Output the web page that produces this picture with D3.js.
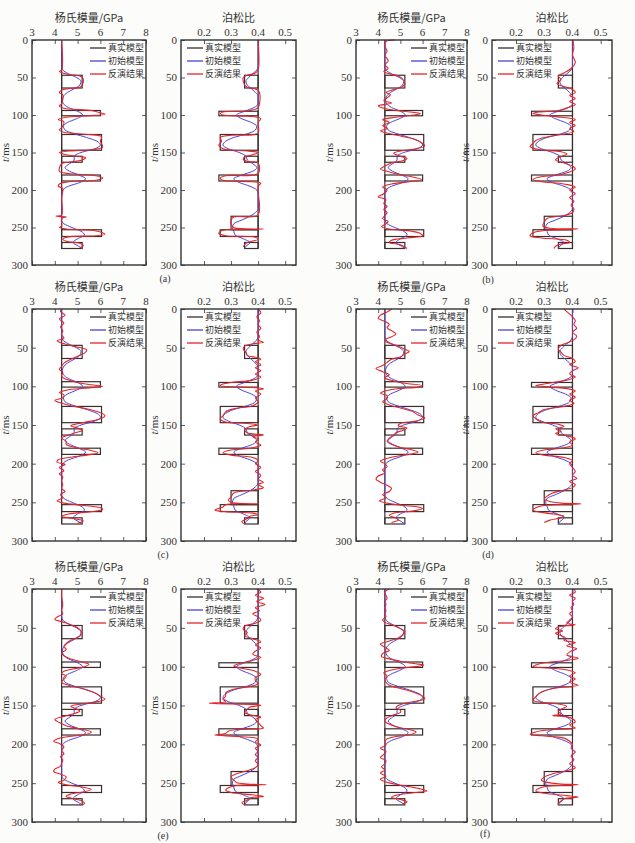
<!DOCTYPE html>
<html><head><meta charset="utf-8">
<script src="https://cdn.jsdelivr.net/npm/d3@7"></script>
<style>body{margin:0;background:#fff}svg{display:block}</style>
</head><body><svg id="c" width="635" height="843"></svg>
<script>
// ---------------- DATA ----------------
const timeTicks = [0, 50, 100, 150, 200, 250, 300];
const eTicks = [3, 4, 5, 6, 7, 8];
const pTicks = [0.2, 0.3, 0.4, 0.5];
const legendNames = ["真实模型", "初始模型", "反演结果"];
const eTitle = "杨氏模量/GPa";
const pTitle = "泊松比";
const captions = ["(a)", "(b)", "(c)", "(d)", "(e)", "(f)"];

// true model: background value + layers [t0, t1, value]
const eBase = 4.3, pBase = 0.4, tEnd = 278;
const eBlocks = [[47,64,5.2],[94,101,6.0],[126,147,6.05],[155,163,5.2],[180,188,6.0],[253,262,6.05],[270,278,5.2]];
const pBlocks = [[47,64,0.35],[95,101,0.255],[126,147,0.26],[155,163,0.35],[180,188,0.255],[235,253,0.3],[253,262,0.26],[270,278,0.35]];

// initial model
const eInit = [[0,4.3],[35,4.3],[40,4.35],[45,4.6],[50,4.95],[55,5.15],[60,5.1],[65,4.85],[70,4.55],[75,4.38],[80,4.33],[85,4.38],[90,4.6],[95,5.0],[100,5.22],[105,4.95],[110,4.55],[115,4.38],[120,4.45],[125,4.85],[130,5.4],[135,5.85],[140,6.0],[145,5.75],[150,5.15],[155,4.85],[160,4.85],[165,4.65],[170,4.45],[175,4.65],[180,5.05],[185,5.35],[190,5.1],[195,4.6],[200,4.35],[205,4.3],[240,4.3],[245,4.4],[250,4.75],[255,5.15],[260,5.3],[265,5.0],[270,4.8],[275,5.05],[278,5.2]];
const pInit = [[0,0.4],[35,0.4],[40,0.395],[45,0.38],[50,0.365],[55,0.355],[60,0.36],[65,0.375],[70,0.39],[75,0.4],[85,0.4],[90,0.385],[95,0.35],[100,0.32],[105,0.34],[110,0.375],[115,0.395],[120,0.39],[125,0.36],[130,0.31],[135,0.28],[140,0.27],[145,0.29],[150,0.33],[155,0.355],[160,0.36],[165,0.38],[170,0.395],[175,0.38],[180,0.34],[185,0.31],[190,0.33],[195,0.37],[200,0.395],[205,0.4],[225,0.4],[230,0.39],[235,0.37],[240,0.34],[245,0.31],[250,0.305],[255,0.31],[260,0.315],[265,0.345],[270,0.37],[275,0.355],[278,0.35]];

// inversion results
const eInvA = [[0,4.3],[40,4.3],[42,4.2],[44,4.35],[46,4.6],[48,5.1],[52,5.25],[60,5.2],[63,5.1],[65,4.6],[67,4.3],[70,4.2],[73,4.35],[85,4.3],[88,4.2],[91,4.4],[94,5.6],[97,6.0],[99,6.2],[101,5.5],[103,4.5],[106,4.15],[109,4.4],[115,4.35],[120,4.2],[123,4.4],[126,5.5],[129,6.05],[135,6.0],[143,6.1],[146,5.7],[148,4.6],[150,4.2],[153,4.5],[155,5.0],[157,5.35],[160,5.2],[163,4.6],[165,4.3],[175,4.2],[178,4.6],[181,5.8],[184,6.1],[187,5.8],[189,4.6],[192,4.2],[195,4.15],[198,4.35],[210,4.3],[233,4.3],[235,4.05],[236,4.5],[238,4.3],[248,4.3],[250,4.2],[252,4.5],[254,5.7],[257,6.1],[259,6.2],[261,5.8],[263,4.5],[266,4.35],[269,4.6],[271,5.1],[274,5.25],[277,5.1]];
const pInvA = [[0,0.4],[40,0.4],[44,0.39],[47,0.36],[50,0.345],[60,0.35],[63,0.36],[66,0.395],[70,0.405],[90,0.4],[94,0.37],[96,0.27],[98,0.26],[100,0.27],[102,0.38],[105,0.41],[110,0.4],[124,0.4],[127,0.3],[130,0.26],[135,0.265],[140,0.255],[145,0.27],[148,0.36],[150,0.4],[153,0.38],[156,0.35],[159,0.345],[162,0.36],[164,0.4],[178,0.4],[181,0.28],[184,0.26],[187,0.27],[189,0.38],[191,0.41],[195,0.4],[233,0.4],[236,0.31],[240,0.3],[245,0.3],[250,0.31],[252,0.42],[253,0.28],[255,0.26],[258,0.255],[261,0.28],[263,0.39],[266,0.4],[268,0.38],[270,0.36],[273,0.35],[276,0.345]];
const eInvB = [[0,4.75],[2,4.35],[8,4.3],[15,4.4],[20,4.3],[28,4.45],[33,4.3],[38,4.45],[42,4.25],[45,4.5],[48,4.9],[52,5.1],[58,5.2],[62,5.1],[66,4.7],[70,4.35],[73,4.55],[77,4.4],[81,4.25],[84,4.6],[88,4.0],[92,4.4],[95,5.1],[98,5.9],[100,5.6],[103,4.8],[106,4.2],[110,4.5],[114,4.2],[118,4.4],[121,4.1],[124,4.4],[128,5.0],[132,5.6],[136,5.9],[141,6.1],[145,5.7],[148,5.0],[151,4.7],[155,5.0],[158,5.3],[161,5.1],[164,4.6],[168,4.3],[172,4.1],[175,4.4],[179,4.9],[183,5.6],[186,5.95],[189,5.4],[192,4.6],[196,4.2],[200,4.4],[205,4.25],[209,4.0],[213,4.35],[218,4.25],[222,4.4],[226,4.25],[230,4.4],[234,4.3],[238,4.2],[242,4.45],[246,4.3],[249,4.15],[252,4.5],[255,5.5],[258,5.9],[261,6.0],[264,5.3],[267,4.6],[270,4.5],[273,5.0],[276,5.2],[278,5.3]];
const pInvB = [[0,0.4],[10,0.405],[20,0.4],[30,0.41],[38,0.395],[44,0.37],[48,0.35],[53,0.36],[58,0.345],[62,0.37],[66,0.4],[70,0.41],[74,0.39],[78,0.41],[82,0.39],[86,0.41],[90,0.385],[94,0.35],[96,0.28],[98,0.26],[100,0.29],[103,0.36],[106,0.41],[110,0.39],[114,0.41],[118,0.39],[122,0.405],[126,0.36],[130,0.3],[134,0.27],[138,0.26],[142,0.25],[146,0.28],[149,0.36],[152,0.38],[156,0.355],[160,0.34],[164,0.37],[168,0.4],[172,0.41],[176,0.39],[180,0.35],[183,0.28],[186,0.26],[189,0.29],[192,0.37],[196,0.41],[200,0.39],[205,0.41],[210,0.39],[215,0.405],[220,0.395],[225,0.405],[230,0.4],[234,0.37],[238,0.31],[243,0.3],[248,0.295],[251,0.32],[252,0.42],[254,0.3],[257,0.26],[261,0.25],[264,0.29],[267,0.38],[270,0.39],[272,0.36],[275,0.34],[278,0.335]];
const eInvC = [[0,4.3],[3,4.25],[8,4.45],[13,4.2],[18,4.4],[23,4.25],[28,4.35],[33,4.3],[38,4.4],[41,4.1],[44,4.3],[48,4.8],[53,5.4],[57,5.3],[61,5.0],[65,4.7],[70,4.4],[74,4.3],[78,4.2],[82,4.35],[87,4.3],[91,4.5],[95,5.0],[98,5.6],[100,6.1],[102,5.5],[105,4.5],[108,4.2],[111,4.4],[115,4.35],[118,4.0],[121,4.2],[125,4.7],[129,5.4],[134,6.0],[138,6.2],[142,6.0],[146,5.4],[149,4.9],[151,4.7],[154,5.0],[157,5.2],[160,4.9],[163,4.6],[167,4.3],[171,4.5],[175,4.5],[179,4.9],[183,5.6],[186,5.9],[189,5.4],[192,4.6],[195,4.15],[198,4.1],[201,4.45],[205,4.2],[209,4.4],[213,4.2],[217,4.35],[222,4.3],[227,4.35],[232,4.3],[236,4.45],[240,4.25],[244,4.35],[248,4.1],[251,4.4],[254,5.3],[257,6.0],[259,6.1],[262,5.6],[265,4.6],[268,4.3],[271,4.8],[274,5.25],[277,5.0]];
const pInvC = [[0,0.4],[5,0.41],[10,0.395],[15,0.405],[20,0.4],[25,0.41],[30,0.395],[35,0.405],[40,0.4],[43,0.42],[45,0.38],[48,0.35],[52,0.345],[56,0.355],[60,0.36],[63,0.4],[65,0.41],[68,0.39],[72,0.41],[76,0.39],[80,0.41],[84,0.39],[88,0.41],[92,0.38],[95,0.3],[97,0.27],[99,0.26],[101,0.33],[103,0.42],[106,0.39],[110,0.41],[115,0.39],[120,0.4],[125,0.38],[129,0.31],[133,0.28],[138,0.27],[142,0.26],[146,0.28],[148,0.36],[150,0.4],[152,0.37],[156,0.35],[160,0.36],[163,0.42],[165,0.38],[168,0.4],[172,0.39],[176,0.41],[180,0.37],[183,0.29],[186,0.27],[189,0.3],[192,0.38],[196,0.4],[200,0.39],[205,0.41],[210,0.39],[215,0.41],[220,0.4],[224,0.42],[227,0.4],[231,0.42],[234,0.38],[238,0.31],[243,0.3],[247,0.29],[250,0.3],[252,0.4],[253,0.28],[256,0.27],[260,0.24],[262,0.28],[264,0.38],[266,0.4],[268,0.37],[271,0.36],[275,0.34],[278,0.35]];
const eInvD = [[0,4.6],[4,4.4],[8,4.1],[12,4.0],[16,4.3],[20,4.5],[24,4.4],[28,4.6],[32,4.8],[36,4.6],[40,4.3],[43,4.4],[47,4.8],[52,5.2],[55,5.4],[58,5.2],[62,5.0],[65,4.6],[69,4.4],[73,4.2],[77,3.9],[81,4.2],[85,4.5],[89,4.3],[93,4.7],[96,5.2],[99,6.0],[101,5.8],[103,4.9],[106,4.3],[109,4.1],[112,4.4],[116,4.4],[120,4.2],[124,4.5],[128,5.0],[132,5.5],[137,5.8],[141,6.1],[145,5.7],[148,5.0],[151,4.9],[154,5.3],[157,5.1],[160,4.8],[163,4.7],[167,4.5],[171,4.4],[175,4.6],[179,5.0],[182,5.5],[185,5.8],[188,5.4],[191,4.7],[194,4.3],[197,4.1],[200,4.3],[204,4.4],[208,4.2],[212,4.3],[216,4.0],[220,3.9],[224,4.1],[228,4.4],[232,4.6],[236,4.5],[240,4.2],[244,4.35],[248,4.05],[251,4.4],[254,5.1],[256,5.8],[258,6.0],[261,5.6],[264,4.7],[267,4.5],[270,4.8],[273,4.9],[276,4.6]];
const pInvD = [[0,0.37],[5,0.385],[10,0.4],[15,0.41],[20,0.405],[25,0.415],[30,0.4],[35,0.415],[40,0.405],[44,0.38],[47,0.36],[52,0.35],[56,0.36],[60,0.37],[64,0.4],[68,0.41],[72,0.39],[76,0.42],[80,0.4],[84,0.39],[88,0.41],[92,0.38],[95,0.33],[97,0.3],[99,0.27],[101,0.32],[103,0.38],[106,0.41],[110,0.39],[114,0.41],[118,0.39],[122,0.405],[126,0.37],[130,0.3],[134,0.28],[138,0.26],[142,0.27],[146,0.29],[149,0.35],[152,0.37],[155,0.34],[158,0.36],[161,0.34],[164,0.38],[168,0.41],[172,0.39],[176,0.4],[180,0.36],[183,0.29],[186,0.27],[189,0.3],[192,0.37],[196,0.4],[200,0.39],[205,0.4],[210,0.41],[215,0.4],[219,0.415],[223,0.39],[227,0.41],[231,0.4],[234,0.37],[238,0.33],[242,0.31],[246,0.3],[249,0.32],[251,0.36],[252,0.43],[254,0.3],[257,0.27],[260,0.26],[263,0.29],[266,0.35],[268,0.37],[270,0.36],[273,0.32],[276,0.3]];
const eInvE = [[0,4.3],[10,4.3],[20,4.35],[28,4.3],[32,4.35],[36,4.1],[39,4.0],[42,4.3],[46,4.7],[50,5.0],[54,5.15],[58,5.2],[62,5.0],[66,4.7],[70,4.5],[74,4.4],[78,4.5],[82,4.3],[86,4.4],[90,4.7],[94,5.2],[97,5.5],[100,5.3],[103,4.8],[106,4.4],[109,4.3],[112,4.5],[116,4.4],[120,4.3],[124,4.6],[128,5.2],[133,5.7],[138,6.0],[142,6.2],[145,5.9],[148,5.2],[151,4.7],[154,4.9],[157,5.1],[160,4.9],[164,4.4],[168,4.0],[172,4.2],[176,4.5],[180,5.1],[184,5.6],[187,5.4],[190,4.6],[193,4.1],[196,3.95],[199,4.2],[203,4.4],[208,4.3],[212,4.4],[216,4.25],[220,4.35],[224,4.3],[228,4.25],[232,4.0],[235,3.95],[238,4.2],[242,4.5],[246,4.4],[249,4.15],[252,4.5],[255,5.2],[258,5.6],[261,5.3],[264,4.7],[267,4.5],[270,4.8],[273,5.2],[276,5.3],[278,5.2]];
const pInvE = [[0,0.395],[4,0.41],[8,0.39],[12,0.42],[16,0.395],[20,0.425],[24,0.39],[28,0.405],[32,0.38],[36,0.4],[40,0.41],[44,0.39],[48,0.35],[52,0.345],[56,0.36],[60,0.35],[64,0.38],[68,0.41],[72,0.39],[76,0.41],[80,0.39],[84,0.38],[88,0.41],[92,0.38],[96,0.33],[99,0.31],[102,0.34],[106,0.39],[110,0.41],[114,0.39],[118,0.39],[122,0.4],[126,0.36],[130,0.3],[134,0.28],[138,0.28],[142,0.27],[145,0.28],[147,0.22],[149,0.4],[150,0.41],[152,0.37],[155,0.36],[159,0.35],[162,0.37],[165,0.41],[168,0.39],[172,0.4],[176,0.41],[179,0.42],[181,0.32],[183,0.29],[186,0.28],[188,0.24],[190,0.33],[193,0.4],[197,0.39],[201,0.41],[205,0.39],[209,0.4],[213,0.39],[217,0.4],[221,0.39],[226,0.4],[230,0.39],[234,0.36],[238,0.32],[242,0.3],[246,0.31],[249,0.32],[251,0.36],[252,0.43],[253,0.32],[256,0.29],[259,0.28],[262,0.3],[265,0.38],[267,0.42],[269,0.37],[272,0.36],[275,0.34],[278,0.35]];
const eInvF = [[0,4.5],[4,4.3],[8,4.35],[12,4.4],[16,4.3],[20,4.35],[24,4.3],[28,4.35],[32,4.3],[36,4.35],[40,4.2],[43,4.3],[47,4.7],[51,5.0],[55,5.2],[59,5.1],[63,4.9],[67,4.5],[71,4.1],[75,4.3],[79,4.5],[83,4.2],[87,4.15],[90,4.5],[93,5.0],[96,5.6],[98,6.05],[100,5.7],[102,5.0],[105,4.5],[108,4.25],[112,4.4],[116,4.3],[120,4.35],[124,4.5],[128,5.0],[133,5.6],[138,6.0],[141,6.1],[144,5.8],[147,5.2],[150,4.9],[153,4.8],[156,5.0],[159,5.0],[162,4.7],[166,4.4],[170,4.3],[174,4.5],[178,4.9],[181,5.4],[184,5.7],[187,5.5],[190,4.8],[193,4.4],[197,4.3],[201,4.35],[205,4.1],[209,4.35],[213,4.25],[217,4.1],[221,4.35],[225,4.3],[229,4.15],[233,4.3],[237,4.1],[241,4.35],[245,4.1],[249,4.4],[252,4.9],[255,5.5],[258,6.0],[260,6.2],[262,5.7],[265,4.9],[268,4.6],[271,5.0],[274,5.3],[277,5.1]];
const pInvF = [[0,0.405],[4,0.41],[8,0.39],[12,0.41],[16,0.4],[20,0.405],[24,0.395],[28,0.4],[32,0.39],[36,0.4],[40,0.39],[44,0.38],[46,0.41],[48,0.36],[51,0.34],[54,0.365],[57,0.34],[60,0.36],[63,0.375],[66,0.37],[69,0.41],[73,0.38],[77,0.415],[81,0.39],[85,0.38],[89,0.42],[92,0.38],[95,0.3],[98,0.27],[100,0.26],[102,0.33],[105,0.39],[108,0.41],[112,0.39],[116,0.41],[120,0.39],[124,0.42],[127,0.35],[131,0.3],[135,0.28],[139,0.27],[143,0.26],[146,0.29],[148,0.35],[151,0.38],[155,0.36],[158,0.35],[161,0.36],[163,0.33],[164,0.37],[167,0.4],[171,0.41],[175,0.39],[179,0.41],[181,0.33],[184,0.27],[187,0.25],[189,0.29],[192,0.37],[196,0.39],[200,0.4],[205,0.395],[210,0.41],[215,0.395],[220,0.405],[225,0.39],[230,0.41],[234,0.38],[238,0.33],[242,0.3],[246,0.29],[249,0.31],[251,0.36],[252,0.42],[254,0.31],[257,0.28],[260,0.27],[263,0.3],[266,0.38],[268,0.42],[270,0.37],[273,0.36],[276,0.35],[278,0.35]];

const eInv = [eInvA, eInvB, eInvC, eInvD, eInvE, eInvF];
const pInv = [pInvA, pInvB, pInvC, pInvD, pInvE, pInvF];

// ---------------- LAYOUT ----------------
const colX = [{E:[32,146], P:[181,296]}, {E:[356,467], P:[492,612]}];
const rowY = [[40,265], [309,541], [589,822]];
const capPos = [[165,282],[488,283],[163,558],[488,558],[163,839],[485,837]];
const C = {true:"#3a2e2e", init:"#4a45d0", inv:"#e4262b", axis:"#333"};
const numFont = "'Liberation Serif','DejaVu Serif',serif";
const cjkFont = "'Noto Sans CJK SC','Noto Sans CJK JP',sans-serif";

const svg = d3.select("#c");
svg.append("rect").attr("width",635).attr("height",843).attr("fill","#fcfcfa");

function drawSub(x0, x1, y0, y1, domain, ticks, tickFmt, title, base, blocks, init, inv, legendSide) {
  const g = svg.append("g");
  const x = d3.scaleLinear().domain(domain).range([x0, x1]);
  const y = d3.scaleLinear().domain([0, 300]).range([y0, y1]);
  g.append("rect").attr("x", x0).attr("y", y0).attr("width", x1-x0).attr("height", y1-y0).attr("fill", "#fff");

  // inward ticks on four sides via d3 axes
  const tl = 4;
  g.append("g").attr("transform", `translate(0,${y0})`)
    .call(d3.axisBottom(x).tickValues(ticks).tickSize(tl).tickFormat(""))
    .call(a => a.select(".domain").remove());
  g.append("g").attr("transform", `translate(0,${y1})`)
    .call(d3.axisTop(x).tickValues(ticks).tickSize(tl).tickFormat(""))
    .call(a => a.select(".domain").remove());
  g.append("g").attr("transform", `translate(${x0},0)`)
    .call(d3.axisRight(y).tickValues(timeTicks).tickSize(tl).tickFormat(""))
    .call(a => a.select(".domain").remove());
  g.append("g").attr("transform", `translate(${x1},0)`)
    .call(d3.axisLeft(y).tickValues(timeTicks).tickSize(tl).tickFormat(""))
    .call(a => a.select(".domain").remove());
  g.selectAll(".tick line").attr("stroke", C.axis).attr("stroke-width", 0.8);

  // tick labels
  g.selectAll(".xl").data(ticks).enter().append("text")
    .attr("x", d => x(d)).attr("y", y0 - 4).attr("text-anchor", "middle")
    .attr("font-family", numFont).attr("font-size", 11).attr("fill", "#333")
    .text(tickFmt);
  g.selectAll(".yl").data(timeTicks).enter().append("text")
    .attr("x", x0 - 4).attr("y", d => y(d)).attr("dy", "0.35em").attr("text-anchor", "end")
    .attr("font-family", numFont).attr("font-size", 11).attr("fill", "#333")
    .text(d => d);
  // title
  g.append("text").attr("x", (x0+x1)/2).attr("y", y0 - 18).attr("text-anchor", "middle")
    .attr("font-family", cjkFont).attr("font-size", 11).attr("fill", "#333").text(title);
  // y label
  const yl = g.append("text").attr("transform", `translate(${x0-23},${y(150)}) rotate(-90)`)
    .attr("text-anchor", "middle").attr("font-family", numFont).attr("font-size", 11).attr("fill", "#333");
  yl.append("tspan").attr("font-style", "italic").text("t");
  yl.append("tspan").text("/ms");

  // true model
  const tm = g.append("g").attr("fill", "none").attr("stroke", C.true).attr("stroke-width", 1.2);
  tm.append("line").attr("x1", x(base)).attr("x2", x(base)).attr("y1", y(0)).attr("y2", y(tEnd));
  tm.selectAll("rect").data(blocks).enter().append("rect")
    .attr("x", d => Math.min(x(base), x(d[2]))).attr("width", d => Math.abs(x(d[2]) - x(base)))
    .attr("y", d => y(d[0])).attr("height", d => y(d[1]) - y(d[0]));

  const line = d3.line().x(d => x(d[1])).y(d => y(d[0]));
  g.append("path").datum(init).attr("fill","none").attr("stroke", C.init).attr("stroke-width", 1)
    .attr("d", line.curve(d3.curveMonotoneY)(init));
  const line2 = d3.line().x(d => x(d[1])).y(d => y(d[0])).curve(d3.curveCatmullRom.alpha(0.5));
  g.append("path").datum(inv).attr("fill","none").attr("stroke", C.inv).attr("stroke-width", 1.1)
    .attr("d", line2);

  // frame
  g.append("rect").attr("x", x0).attr("y", y0).attr("width", x1-x0).attr("height", y1-y0)
    .attr("fill", "none").attr("stroke", C.axis).attr("stroke-width", 1.4);

  // legend
  const lx = legendSide === "right" ? x1 - 56 : x0 + 6;
  const cols = [C.true, C.init, C.inv];
  legendNames.forEach((n, i) => {
    const yy = y0 + 8 + i * 13;
    g.append("line").attr("x1", lx).attr("x2", lx + 16).attr("y1", yy).attr("y2", yy)
      .attr("stroke", cols[i]).attr("stroke-width", 1.3);
    g.append("text").attr("x", lx + 18).attr("y", yy).attr("dy", "0.36em")
      .attr("font-family", cjkFont).attr("font-size", 9).attr("fill", "#333").text(n);
  });
}

captions.forEach((cap, i) => {
  const col = i % 2, row = Math.floor(i / 2);
  const [y0, y1] = rowY[row];
  const cx = colX[col];
  drawSub(cx.E[0], cx.E[1], y0, y1, [3, 8], eTicks, d => d, eTitle, eBase, eBlocks, eInit, eInv[i], "right");
  drawSub(cx.P[0], cx.P[1], y0, y1, [0.115, 0.54], pTicks, d => d.toFixed(1), pTitle, pBase, pBlocks, pInit, pInv[i], "left");
  svg.append("text").attr("x", capPos[i][0]).attr("y", capPos[i][1]).attr("text-anchor", "middle")
    .attr("font-family", numFont).attr("font-size", 10).attr("fill", "#333").text(cap);
});
</script></body></html>
